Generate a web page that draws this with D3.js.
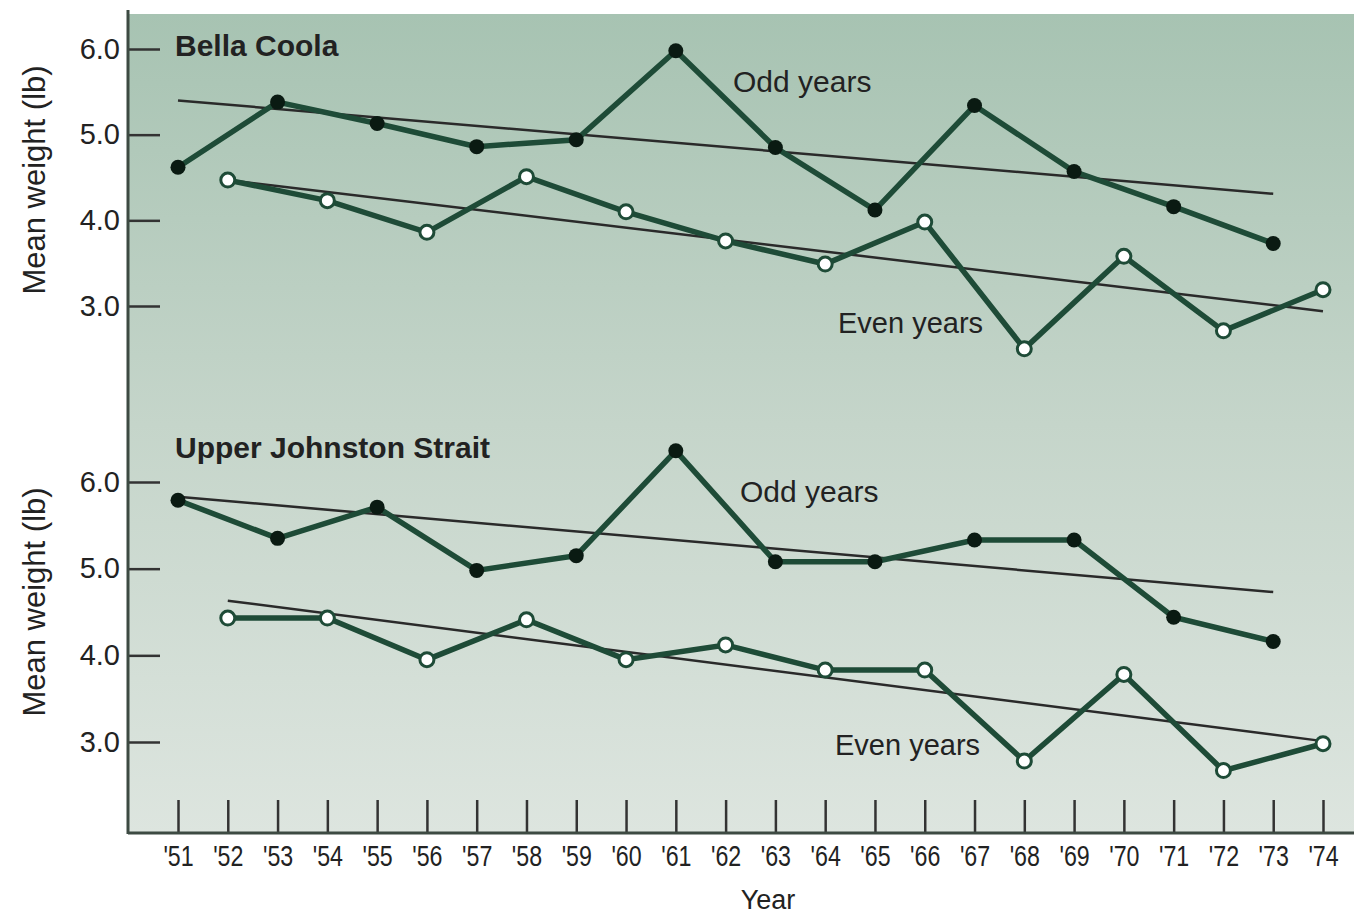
<!DOCTYPE html>
<html>
<head>
<meta charset="utf-8">
<script src="https://cdn.jsdelivr.net/npm/d3@7"></script>
<style>
  body { margin: 0; background: #fff; }
  text { font-family: "Liberation Sans Narrow", "Arial Narrow", "Liberation Sans", sans-serif; fill: #222; }
</style>
</head>
<body>
<div id="chart"></div>
<script>
const width = 1354, height = 918;

// data
const oddYears = [1951, 1953, 1955, 1957, 1959, 1961, 1963, 1965, 1967, 1969, 1971, 1973];
const evenYears = [1952, 1954, 1956, 1958, 1960, 1962, 1964, 1966, 1968, 1970, 1972, 1974];

const bellaOdd = [4.62, 5.38, 5.13, 4.86, 4.94, 5.98, 4.85, 4.12, 5.34, 4.57, 4.16, 3.73];
const bellaEven = [4.47, 4.23, 3.86, 4.51, 4.10, 3.76, 3.49, 3.98, 2.50, 3.58, 2.71, 3.19];
const bellaOddTrend = [5.40, 4.31];
const bellaEvenTrend = [4.47, 2.94];

const johnOdd = [5.79, 5.35, 5.71, 4.98, 5.15, 6.36, 5.08, 5.08, 5.33, 5.33, 4.44, 4.16];
const johnEven = [4.43, 4.43, 3.95, 4.41, 3.95, 4.12, 3.83, 3.83, 2.78, 3.78, 2.67, 2.98];
const johnOddTrend = [5.83, 4.73];
const johnEvenTrend = [4.63, 3.01];

const yTicks = [3.0, 4.0, 5.0, 6.0];

const svg = d3.select("#chart").append("svg")
    .attr("width", width)
    .attr("height", height);

const defs = svg.append("defs");
const grad = defs.append("linearGradient")
    .attr("id", "bg")
    .attr("x1", 0).attr("y1", 0).attr("x2", 0).attr("y2", 1);
grad.append("stop").attr("offset", "0%").attr("stop-color", "#a7c3b2");
grad.append("stop").attr("offset", "50%").attr("stop-color", "#c5d5ca");
grad.append("stop").attr("offset", "100%").attr("stop-color", "#dde5df");

const plotLeft = 128, plotTop = 14, plotBottom = 833;

svg.append("rect")
    .attr("x", plotLeft).attr("y", plotTop)
    .attr("width", width - plotLeft).attr("height", plotBottom - plotTop)
    .attr("fill", "url(#bg)");

const x = d3.scaleLinear().domain([1951, 1974]).range([178, 1323]);

const panels = [
    { name: "Bella Coola", y: d3.scaleLinear().domain([3, 6]).range([306, 49]),
      odd: bellaOdd, even: bellaEven, oddTrend: bellaOddTrend, evenTrend: bellaEvenTrend,
      titleY: 56, oddLabel: [733, 92], evenLabel: [838, 333], axisLabelY: 180 },
    { name: "Upper Johnston Strait", y: d3.scaleLinear().domain([3, 6]).range([742, 482]),
      odd: johnOdd, even: johnEven, oddTrend: johnOddTrend, evenTrend: johnEvenTrend,
      titleY: 458, oddLabel: [740, 502], evenLabel: [835, 755], axisLabelY: 602 }
];

const lineColor = "#1e4b37";

panels.forEach(p => {
    // y axis ticks going into the plot, labels on the left
    const yAxis = d3.axisLeft(p.y)
        .tickValues(yTicks)
        .tickFormat(d3.format(".1f"))
        .tickSizeInner(-32)
        .tickSizeOuter(0)
        .tickPadding(8);

    const ga = svg.append("g")
        .attr("transform", `translate(${plotLeft},0)`)
        .call(yAxis);
    ga.select(".domain").remove();
    ga.selectAll(".tick line").attr("stroke", "#333").attr("stroke-width", 2.5);
    ga.selectAll(".tick text").style("font-size", "29px").attr("fill", "#2a2a2a");

    svg.append("text")
        .attr("transform", `translate(45,${p.axisLabelY}) rotate(-90)`)
        .attr("text-anchor", "middle")
        .style("font-size", "31px")
        .text("Mean weight (lb)");

    svg.append("text")
        .attr("x", 175).attr("y", p.titleY)
        .style("font-family", "'Liberation Sans', Arial, sans-serif")
        .style("font-weight", "bold")
        .style("font-size", "30px")
        .attr("fill", "#111")
        .text(p.name);

    // trend lines
    const trends = [
        { years: [oddYears[0], oddYears[oddYears.length - 1]], vals: p.oddTrend },
        { years: [evenYears[0], evenYears[evenYears.length - 1]], vals: p.evenTrend }
    ];
    trends.forEach(t => {
        svg.append("line")
            .attr("x1", x(t.years[0])).attr("y1", p.y(t.vals[0]))
            .attr("x2", x(t.years[1])).attr("y2", p.y(t.vals[1]))
            .attr("stroke", "#2a2a2a")
            .attr("stroke-width", 2.5);
    });

    const line = d3.line()
        .x(d => x(d[0]))
        .y(d => p.y(d[1]));

    const oddPts = oddYears.map((yr, i) => [yr, p.odd[i]]);
    const evenPts = evenYears.map((yr, i) => [yr, p.even[i]]);

    [oddPts, evenPts].forEach(pts => {
        svg.append("path")
            .datum(pts)
            .attr("d", line)
            .attr("fill", "none")
            .attr("stroke", lineColor)
            .attr("stroke-width", 5.5)
            .attr("stroke-linejoin", "miter");
    });

    svg.append("g").selectAll("circle")
        .data(oddPts)
        .enter().append("circle")
        .attr("cx", d => x(d[0]))
        .attr("cy", d => p.y(d[1]))
        .attr("r", 7.5)
        .attr("fill", "#0a1a12");

    svg.append("g").selectAll("circle")
        .data(evenPts)
        .enter().append("circle")
        .attr("cx", d => x(d[0]))
        .attr("cy", d => p.y(d[1]))
        .attr("r", 7)
        .attr("fill", "#fff")
        .attr("stroke", lineColor)
        .attr("stroke-width", 3);

    svg.append("text")
        .attr("x", p.oddLabel[0]).attr("y", p.oddLabel[1])
        .style("font-size", "30px")
        .text("Odd years");

    svg.append("text")
        .attr("x", p.evenLabel[0]).attr("y", p.evenLabel[1])
        .style("font-size", "29px")
        .text("Even years");
});

// x axis
const xAxis = d3.axisBottom(x)
    .tickValues(d3.range(1951, 1975))
    .tickFormat(d => "'" + String(d).slice(2))
    .tickSizeInner(-33)
    .tickSizeOuter(0)
    .tickPadding(12);

const gx = svg.append("g")
    .attr("transform", `translate(0,${plotBottom})`)
    .call(xAxis);
gx.select(".domain").remove();
gx.selectAll(".tick line").attr("stroke", "#333").attr("stroke-width", 2.5);
gx.selectAll(".tick text")
    .style("font-size", "29px")
    .attr("fill", "#2a2a2a")
    .attr("transform", "scale(0.8,1)");

svg.append("line")
    .attr("x1", plotLeft).attr("y1", plotBottom)
    .attr("x2", width).attr("y2", plotBottom)
    .attr("stroke", "#3d4a42").attr("stroke-width", 3);

svg.append("line")
    .attr("x1", plotLeft).attr("y1", 10)
    .attr("x2", plotLeft).attr("y2", plotBottom + 1)
    .attr("stroke", "#3d4a42").attr("stroke-width", 3);

svg.append("text")
    .attr("x", 768).attr("y", 909)
    .attr("text-anchor", "middle")
    .style("font-size", "27px")
    .text("Year");
</script>
</body>
</html>
